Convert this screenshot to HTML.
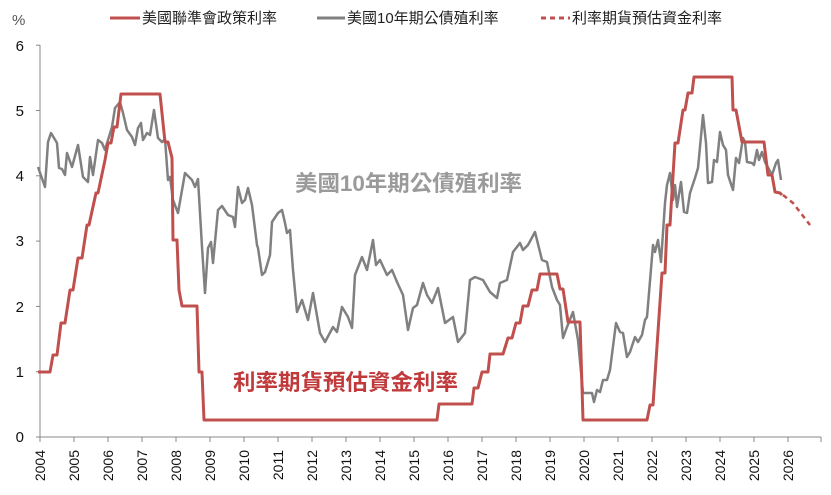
<!DOCTYPE html>
<html><head><meta charset="utf-8"><style>
body{margin:0;background:#fff;}
svg{display:block;font-family:"Liberation Sans","Noto Sans CJK TC",sans-serif;}
</style></head><body>
<svg width="831" height="495" viewBox="0 0 831 495" xmlns="http://www.w3.org/2000/svg">
<!-- legend -->
<text x="12" y="25" font-size="15" fill="#555">%</text>
<line x1="110" y1="18" x2="140" y2="18" stroke="#c0504d" stroke-width="3"/>
<text x="142" y="23" font-size="15" fill="#222">美國聯準會政策利率</text>
<line x1="317" y1="18" x2="345" y2="18" stroke="#808080" stroke-width="3"/>
<text x="347" y="23" font-size="15" fill="#222">美國10年期公債殖利率</text>
<line x1="541" y1="18" x2="570" y2="18" stroke="#c0504d" stroke-width="3" stroke-dasharray="5,4"/>
<text x="572" y="23" font-size="15" fill="#222">利率期貨預估資金利率</text>
<!-- axes -->
<g stroke="#888" stroke-width="1">
<line x1="40" y1="45" x2="40" y2="437"/>
<line x1="40" y1="437" x2="821" y2="437"/>
<line x1="36" y1="45.2" x2="40" y2="45.2"/><line x1="36" y1="110.5" x2="40" y2="110.5"/><line x1="36" y1="175.8" x2="40" y2="175.8"/><line x1="36" y1="241.1" x2="40" y2="241.1"/><line x1="36" y1="306.4" x2="40" y2="306.4"/><line x1="36" y1="371.7" x2="40" y2="371.7"/><line x1="36" y1="437" x2="40" y2="437"/>
<line x1="40" y1="437" x2="40" y2="442"/><line x1="74" y1="437" x2="74" y2="442"/><line x1="108" y1="437" x2="108" y2="442"/><line x1="142" y1="437" x2="142" y2="442"/><line x1="176" y1="437" x2="176" y2="442"/><line x1="210" y1="437" x2="210" y2="442"/><line x1="244" y1="437" x2="244" y2="442"/><line x1="278" y1="437" x2="278" y2="442"/><line x1="312" y1="437" x2="312" y2="442"/><line x1="346" y1="437" x2="346" y2="442"/><line x1="380" y1="437" x2="380" y2="442"/><line x1="414" y1="437" x2="414" y2="442"/><line x1="448" y1="437" x2="448" y2="442"/><line x1="482" y1="437" x2="482" y2="442"/><line x1="516" y1="437" x2="516" y2="442"/><line x1="550" y1="437" x2="550" y2="442"/><line x1="584" y1="437" x2="584" y2="442"/><line x1="618" y1="437" x2="618" y2="442"/><line x1="652" y1="437" x2="652" y2="442"/><line x1="686" y1="437" x2="686" y2="442"/><line x1="720" y1="437" x2="720" y2="442"/><line x1="754" y1="437" x2="754" y2="442"/><line x1="788" y1="437" x2="788" y2="442"/><line x1="821" y1="437" x2="821" y2="442"/>
</g>
<g font-size="15" fill="#111" text-anchor="end">
<text x="24" y="51">6</text><text x="24" y="116">5</text><text x="24" y="181">4</text><text x="24" y="246">3</text><text x="24" y="312">2</text><text x="24" y="377">1</text><text x="24" y="442">0</text>
</g>
<g font-size="14" fill="#111" text-anchor="end">
<text transform="translate(45,450) rotate(-90)">2004</text>
<text transform="translate(79,450) rotate(-90)">2005</text>
<text transform="translate(113,450) rotate(-90)">2006</text>
<text transform="translate(147,450) rotate(-90)">2007</text>
<text transform="translate(181,450) rotate(-90)">2008</text>
<text transform="translate(215,450) rotate(-90)">2009</text>
<text transform="translate(249,450) rotate(-90)">2010</text>
<text transform="translate(283,450) rotate(-90)">2011</text>
<text transform="translate(317,450) rotate(-90)">2012</text>
<text transform="translate(351,450) rotate(-90)">2013</text>
<text transform="translate(385,450) rotate(-90)">2014</text>
<text transform="translate(419,450) rotate(-90)">2015</text>
<text transform="translate(453,450) rotate(-90)">2016</text>
<text transform="translate(487,450) rotate(-90)">2017</text>
<text transform="translate(521,450) rotate(-90)">2018</text>
<text transform="translate(555,450) rotate(-90)">2019</text>
<text transform="translate(589,450) rotate(-90)">2020</text>
<text transform="translate(623,450) rotate(-90)">2021</text>
<text transform="translate(657,450) rotate(-90)">2022</text>
<text transform="translate(691,450) rotate(-90)">2023</text>
<text transform="translate(725,450) rotate(-90)">2024</text>
<text transform="translate(759,450) rotate(-90)">2025</text>
<text transform="translate(793,450) rotate(-90)">2026</text>
</g>
<!-- gray 10y -->
<polyline fill="none" stroke="#808080" stroke-width="2.5" stroke-linejoin="round" points="38,167 45,187 48,142 51,133 57,143 59,168 62,169 65,175 67,153 72,167 78,145 83,177 88,182 90,157 93,175 98,140 102,143 105,150 108,140 112,127 115,108 120,102 123,113 127,130 132,137 135,145 138,128 141,123 143,140 147,133 150,135 154,110 158,138 162,142 165,139 168,180 170,177 173,200 178,213 185,173 192,180 195,187 198,179 202,247 205,293 208,248 211,242 213,263 218,210 222,206 228,215 233,217 235,227 238,187 242,203 245,200 248,188 252,205 257,245 258,248 262,275 265,272 270,255 272,222 278,213 282,210 285,223 287,233 290,230 293,270 297,312 302,300 308,320 313,293 320,333 325,342 333,327 337,332 342,307 348,317 352,328 355,275 362,257 367,270 373,240 376,265 380,260 387,275 392,270 397,282 403,295 408,330 413,308 417,305 423,283 427,295 432,303 438,288 445,323 453,317 458,342 465,333 470,280 475,277 483,280 490,292 497,298 500,283 507,280 513,252 520,243 523,250 528,245 535,232 542,260 547,262 552,287 557,300 560,305 563,338 567,327 573,312 578,340 583,393 592,393 594,402 597,390 600,392 603,380 607,380 610,370 616,323 620,332 623,333 627,357 630,352 635,337 638,342 642,335 645,320 647,317 653,245 655,252 658,240 661,262 665,203 667,185 670,173 673,200 675,185 677,207 681,182 684,212 687,213 690,193 695,178 698,168 700,147 703,115 706,143 708,183 712,182 714,160 717,162 720,132 723,145 726,150 728,175 733,190 736,158 739,163 743,138 745,142 747,162 752,163 754,165 757,150 759,160 762,152 765,162 772,175 776,163 778,160 781,180"/>
<!-- red fed funds -->
<polyline fill="none" stroke="#c0504d" stroke-width="3" stroke-linejoin="round" points="38,372 50,372 53,355 57,355 61,323 65,323 70,290 73,290 78,258 82,258 87,225 89,225 96,193 98,193 105,160 108,143 111,143 114,127 117,127 121,94 160,94 165,142 168,142 172,158 173,240 177,240 179,290 182,306 197,306 199,372 202,372 204,420 437,420 439,404 472,404 474,388 478,388 482,372 488,372 490,354 503,354 508,338 512,338 516,323 520,323 523,306 528,306 532,290 537,290 540,274 557,274 560,289 563,289 568,322 580,322 583,420 647,420 650,405 653,405 662,273 665,273 667,225 670,225 675,143 678,143 683,110 685,110 688,93 692,93 694,77 732,77 733,110 736,110 742,142 764,142 768,175 772,175 775,192 780,193 782,195"/>
<polyline fill="none" stroke="#c0504d" stroke-width="2.5" stroke-dasharray="5,4" points="783,195 793,203 800,212 810,225"/>
<!-- annotations -->
<text x="295" y="191" font-size="22" fill="#9a9a9a" font-weight="bold" textLength="227" lengthAdjust="spacingAndGlyphs">美國10年期公債殖利率</text>
<text x="233" y="390" font-size="22" fill="#c0393b" font-weight="bold" textLength="225" lengthAdjust="spacingAndGlyphs">利率期貨預估資金利率</text>
</svg>
</body></html>
